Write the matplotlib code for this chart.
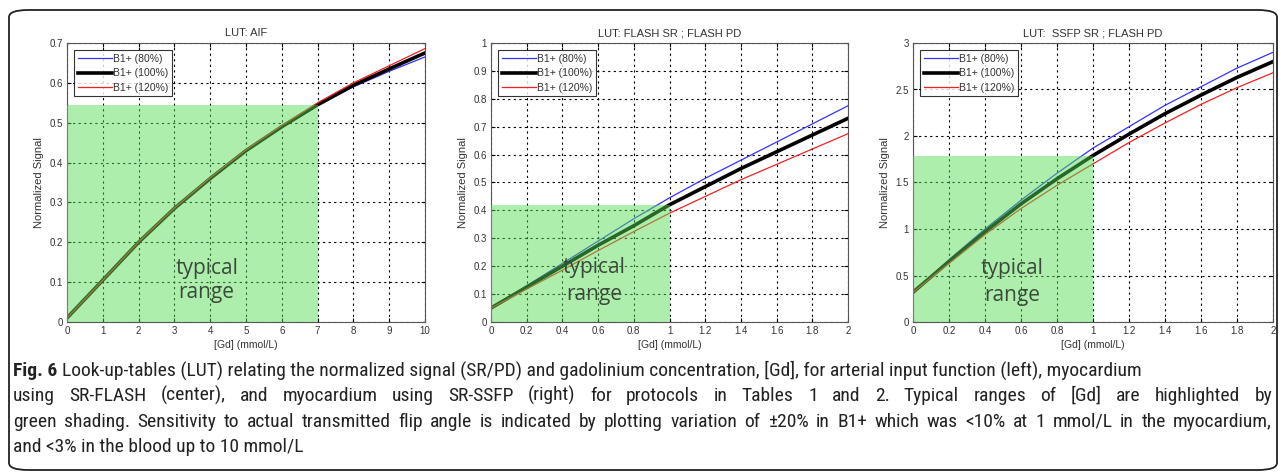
import matplotlib
matplotlib.use('Agg')
import matplotlib.pyplot as plt
from matplotlib import font_manager
from matplotlib.patches import FancyBboxPatch, Rectangle
from matplotlib.ticker import FormatStrFormatter, MultipleLocator

plt.rcParams['font.family'] = ['Liberation Sans', 'DejaVu Sans']

# LUT: AIF
aif_gd = [0, 1, 2, 3, 4, 5, 6, 7, 8, 9, 10]
aif_80 = [0.01, 0.105, 0.199, 0.284, 0.359, 0.428, 0.488, 0.543, 0.590, 0.629, 0.665]
aif_100 = [0.01, 0.105, 0.200, 0.285, 0.360, 0.430, 0.490, 0.545, 0.594, 0.635, 0.675]
aif_120 = [0.01, 0.105, 0.201, 0.286, 0.362, 0.432, 0.493, 0.550, 0.600, 0.643, 0.686]
aif_range = (7, 0.545)

# LUT: FLASH SR ; FLASH PD
myo_gd = [0, 0.2, 0.4, 0.6, 0.8, 1.0, 1.2, 1.4, 1.6, 1.8, 2.0]
flash_80 = [0.05, 0.13, 0.21, 0.29, 0.37, 0.445, 0.515, 0.58, 0.645, 0.71, 0.775]
flash_100 = [0.05, 0.125, 0.20, 0.275, 0.345, 0.42, 0.485, 0.55, 0.61, 0.67, 0.73]
flash_120 = [0.05, 0.118, 0.186, 0.256, 0.324, 0.39, 0.45, 0.51, 0.565, 0.62, 0.675]
flash_range = (1, 0.42)

# LUT: SSFP SR ; FLASH PD
ssfp_80 = [0.32, 0.67, 1.0, 1.31, 1.6, 1.87, 2.1, 2.33, 2.53, 2.73, 2.9]
ssfp_100 = [0.32, 0.65, 0.97, 1.27, 1.54, 1.79, 2.02, 2.24, 2.44, 2.63, 2.8]
ssfp_120 = [0.32, 0.63, 0.94, 1.22, 1.47, 1.70, 1.93, 2.14, 2.34, 2.52, 2.68]
ssfp_range = (1, 1.79)

series_labels = ['B1+ (80%)', 'B1+ (100%)', 'B1+ (120%)']

caption_lines = [
    'Look-up-tables (LUT) relating the normalized signal (SR/PD) and gadolinium concentration, [Gd], for arterial input function (left), myocardium',
    'using SR-FLASH (center), and myocardium using SR-SSFP (right) for protocols in Tables 1 and 2. Typical ranges of [Gd] are highlighted by',
    'green shading. Sensitivity to actual transmitted flip angle is indicated by plotting variation of \u00b120% in B1+ which was <10% at 1 mmol/L in the myocardium,',
    'and <3% in the blood up to 10 mmol/L',
]

# pick a narrow face for the caption if one is installed
names = {f.name for f in font_manager.fontManager.ttflist}
narrow = [n for n in ['Liberation Sans Narrow', 'DejaVu Sans Condensed', 'Roboto Condensed',
                      'Open Sans Condensed'] if n in names]

W, H = 1281, 476
fig = plt.figure(figsize=(W / 100, H / 100), dpi=100)

# outer rounded frame
fig.patches.append(FancyBboxPatch((9 / W, 6 / H), 1268 / W, 460 / H,
                                  boxstyle='round,pad=0,rounding_size=0.015',
                                  transform=fig.transFigure, fill=False,
                                  edgecolor='#222222', linewidth=1.3))

panels = [
    ('LUT: AIF', aif_gd, [aif_80, aif_100, aif_120], aif_range, (0, 10), (0, 0.7), 1, 0.1,
     [67, 425], (3.9, 0.135, 0.075)),
    ('LUT: FLASH SR ; FLASH PD', myo_gd, [flash_80, flash_100, flash_120], flash_range, (0, 2), (0, 1), 0.2, 0.1,
     [491, 848], (0.58, 0.195, 0.098)),
    ('LUT:  SSFP SR ; FLASH PD', myo_gd, [ssfp_80, ssfp_100, ssfp_120], ssfp_range, (0, 2), (0, 3), 0.2, 0.5,
     [913, 1273], (0.55, 0.57, 0.29)),
]

colors = ['#3333ff', 'black', '#ee2222']
widths = [0.9, 2.6, 0.9]

for title, x, ys, rng, xlim, ylim, xstep, ystep, (px0, px1), (tx, ty1, ty2) in panels:
    ax = fig.add_axes([px0 / W, (H - 322) / H, (px1 - px0) / W, 279 / H])
    for y, c, lw, lab in zip(ys, colors, widths, series_labels):
        ax.plot(x, y, color=c, linewidth=lw, label=lab, zorder=2)
    ax.add_patch(Rectangle((0, 0), rng[0], rng[1], facecolor='#55dd55', alpha=0.48,
                           edgecolor='none', zorder=3))
    ax.set_xlim(*xlim)
    ax.set_ylim(*ylim)
    ax.xaxis.set_major_locator(MultipleLocator(xstep))
    ax.yaxis.set_major_locator(MultipleLocator(ystep))
    ax.xaxis.set_major_formatter(FormatStrFormatter('%g'))
    ax.yaxis.set_major_formatter(FormatStrFormatter('%g'))
    ax.grid(True, color='black', linestyle=(0, (2, 3)), linewidth=0.8, zorder=1)
    ax.set_axisbelow(True)
    ax.tick_params(direction='in', length=3, labelsize=7, labelcolor='#333333',
                   top=True, right=True, pad=3)
    for s in ax.spines.values():
        s.set_color('#555555')
        s.set_linewidth(0.8)
    ax.set_title(title, fontsize=8, color='#333333', pad=5)
    ax.set_xlabel('[Gd] (mmol/L)', fontsize=7.5, color='#333333', labelpad=3)
    ax.set_ylabel('Normalized Signal', fontsize=8, color='#333333', labelpad=4)
    leg = ax.legend(loc='upper left', fontsize=7.5, frameon=True, fancybox=False,
                    edgecolor='black', handlelength=3.3, handletextpad=0.1,
                    borderaxespad=0.7, borderpad=0.35, labelspacing=0.42)
    leg.get_frame().set_linewidth(0.8)
    leg.set_zorder(5)
    for t in leg.get_texts():
        t.set_color('#333333')
    ax.text(tx, ty1, 'typical', ha='center', va='center', fontsize=15,
            color='#3a4a3a', family='Open Sans', zorder=4)
    ax.text(tx, ty2, 'range', ha='center', va='center', fontsize=15,
            color='#3a4a3a', family='Open Sans', zorder=4)

# caption
cap_font = dict(fontsize=14, family=narrow + ['DejaVu Sans'], fontstretch='condensed',
                color='#222222', va='baseline')
fig.canvas.draw()
renderer = fig.canvas.get_renderer()
left_px, right_px = 13, 1272
line_y = [376, 401, 427, 452]  # baselines in pixels from top


def text_width(t):
    return t.get_window_extent(renderer).width


for i, (line, yp) in enumerate(zip(caption_lines, line_y)):
    yf = 1 - yp / H
    x0 = left_px
    if i == 0:
        fb = fig.text(x0 / W, yf, 'Fig. 6 ', fontweight='bold', **cap_font)
        x0 += text_width(fb)
    if i in (1, 2):
        # justify to the right edge
        words = line.split(' ')
        items = [fig.text(0, yf, w, **cap_font) for w in words]
        ws = [text_width(t) for t in items]
        gap = (right_px - x0 - sum(ws)) / (len(words) - 1)
        xp = x0
        for t, w in zip(items, ws):
            t.set_x(xp / W)
            xp += w + gap
    else:
        fig.text(x0 / W, yf, line, **cap_font)

fig.savefig('out.png', dpi=100)
